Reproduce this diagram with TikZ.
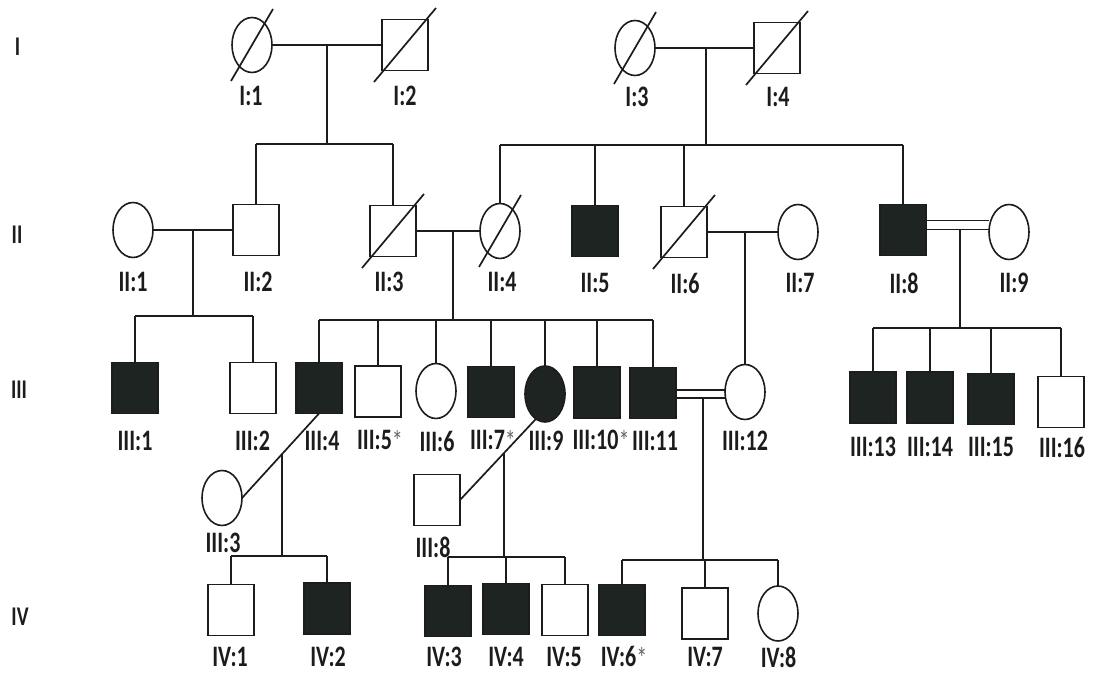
\documentclass[tikz,border=0pt]{standalone}
\usepackage{graphicx}
\usepackage{fontspec}
\setmainfont{Carlito}
\usetikzlibrary{shapes.geometric,calc}
\definecolor{affc}{RGB}{30,36,34}
\definecolor{linec}{RGB}{28,28,28}
\newcommand{\vs}[1]{\scalebox{1}[1.35]{#1}}
\newcommand{\astmark}{\textcolor{black!60}{\raisebox{-0.06em}{\mdseries *}}}
\begin{document}
\begin{tikzpicture}[x=1pt,y=-1pt,
  every node/.style={inner sep=0pt,outer sep=0pt},
  male/.style={draw=linec,line width=1.6pt,rectangle,minimum width=46pt,minimum height=51pt},
  female/.style={draw=linec,line width=1.6pt,ellipse,minimum width=40pt,minimum height=55pt},
  aff/.style={fill=affc},
  lab/.style={font=\fontsize{22}{24}\selectfont\bfseries,text=linec},
  gen/.style={font=\fontsize{20}{22}\selectfont\bfseries,text=linec},
  conn/.style={draw=linec,line width=1.7pt}]
\useasboundingbox (0,0) rectangle (1094,676);
\fill[white] (0,0) rectangle (1094,676);
% generation labels
\node[gen] (gI)   at (17.5,47) {\vs{I}};
\node[gen] (gII)  at (17,235)  {\vs{II}};
\node[gen] (gIII) at (19,390)  {\vs{III}};
\node[gen] (gIV)  at (20,617)  {\vs{IV}};
% generation I
\node[female] (I1) at (252,45) {};
\node[male]   (I2) at (405,45) {};
\node[female] (I3) at (635,48) {};
\node[male]   (I4) at (777,48) {};
% generation II
\node[female] (II1) at (133,230) {};
\node[male]   (II2) at (256,230) {};
\node[male]   (II3) at (393,231) {};
\node[female] (II4) at (500,231) {};
\node[male,aff] (II5) at (595,231) {};
\node[male]   (II6) at (684,232) {};
\node[female] (II7) at (798,232) {};
\node[male,aff] (II8) at (903,230) {};
\node[female] (II9) at (1009,232) {};
% generation III
\node[male,aff] (III1) at (135,388) {};
\node[male]     (III2) at (253,388) {};
\node[male,aff] (III4) at (319,388) {};
\node[male]     (III5) at (378,391.5) {};
\node[female]   (III6) at (436,391) {};
\node[male,aff] (III7) at (491,392) {};
\node[female,aff,minimum height=56pt] (III9) at (545,394) {};
\node[male,aff] (III10) at (597,392.5) {};
\node[male,aff] (III11) at (653,393) {};
\node[female]   (III12) at (745,392) {};
\node[male,aff] (III13) at (873,397.5) {};
\node[male,aff] (III14) at (930,397.5) {};
\node[male,aff] (III15) at (991,399) {};
\node[male]     (III16) at (1061,402) {};
\node[female]   (III3) at (222,498) {};
\node[male]     (III8) at (437,500) {};
% generation IV
\node[male]     (IV1) at (231,610) {};
\node[male,aff] (IV2) at (327,608.5) {};
\node[male,aff] (IV3) at (448,611) {};
\node[male,aff] (IV4) at (506,609) {};
\node[male]     (IV5) at (565,610) {};
\node[male,aff] (IV6) at (622,610) {};
\node[male]     (IV7) at (705,613.5) {};
\node[female]   (IV8) at (778,613.5) {};
% deceased marks
\foreach \n in {I1,I3,II4} \draw[conn] ($(\n.center)+(-21,36)$) -- ($(\n.center)+(21,-36)$);
\foreach \n in {I2,I4,II3,II6} \draw[conn] ($(\n.center)+(-31,37)$) -- ($(\n.center)+(31,-37)$);
% labels
\node[lab] (lI1) at (251,96) {\vs{I:1}};
\node[lab] (lI2) at (405,96) {\vs{I:2}};
\node[lab] (lI3) at (637,97) {\vs{I:3}};
\node[lab] (lI4) at (778,97) {\vs{I:4}};
\node[lab] (lII1) at (133,282) {\vs{II:1}};
\node[lab] (lII2) at (258,282) {\vs{II:2}};
\node[lab] (lII3) at (389,282) {\vs{II:3}};
\node[lab] (lII4) at (502,282) {\vs{II:4}};
\node[lab] (lII5) at (595,283) {\vs{II:5}};
\node[lab] (lII6) at (685,283) {\vs{II:6}};
\node[lab] (lII7) at (800,283) {\vs{II:7}};
\node[lab] (lII8) at (904,283) {\vs{II:8}};
\node[lab] (lII9) at (1014,283) {\vs{II:9}};
\node[lab] (lIII1) at (135,441) {\vs{III:1}};
\node[lab] (lIII2) at (252.5,441) {\vs{III:2}};
\node[lab] (lIII4) at (322,441) {\vs{III:4}};
\node[lab] (lIII5) at (380,441) {\vs{III:5\astmark}};
\node[lab] (lIII6) at (437,441) {\vs{III:6}};
\node[lab] (lIII7) at (493,441) {\vs{III:7\astmark}};
\node[lab] (lIII9) at (546,441) {\vs{III:9}};
\node[lab] (lIII10) at (601,441) {\vs{III:10\astmark}};
\node[lab] (lIII11) at (655,441) {\vs{III:11}};
\node[lab] (lIII12) at (745,441) {\vs{III:12}};
\node[lab] (lIII13) at (873,447) {\vs{III:13}};
\node[lab] (lIII14) at (930,447) {\vs{III:14}};
\node[lab] (lIII15) at (991,447) {\vs{III:15}};
\node[lab] (lIII16) at (1062,447) {\vs{III:16}};
\node[lab] (lIII3) at (223,543) {\vs{III:3}};
\node[lab] (lIII8) at (433,547) {\vs{III:8}};
\node[lab] (lIV1) at (230,657) {\vs{IV:1}};
\node[lab] (lIV2) at (328,657) {\vs{IV:2}};
\node[lab] (lIV3) at (444,657) {\vs{IV:3}};
\node[lab] (lIV4) at (506,657) {\vs{IV:4}};
\node[lab] (lIV5) at (564,657) {\vs{IV:5}};
\node[lab] (lIV6) at (624,657) {\vs{IV:6\astmark}};
\node[lab] (lIV7) at (705,657) {\vs{IV:7}};
\node[lab] (lIV8) at (778.5,657) {\vs{IV:8}};
% junction coordinates
\coordinate (m1) at ($(I1.east)!0.5!(I2.west)$);
\coordinate (s1) at (326,144);
\coordinate (m2) at (706,48);
\coordinate (s2) at (706,145);
\coordinate (m3) at ($(II1.east)!0.5!(II2.west)$);
\coordinate (s3) at (193,316);
\coordinate (m4) at (453,231);
\coordinate (s4) at (453,320);
\coordinate (m5) at (745,232);
\coordinate (m6) at (960,230);
\coordinate (s6) at (960,328);
\coordinate (m7) at (703,398);
\coordinate (s7) at (703,560);
\coordinate (m8) at ($(III4.south)!0.484!(III3.east)$);
\coordinate (s8) at (282,556);
\coordinate (m9) at ($(III9.250)!0.42!(III8.east)$);
\coordinate (s9) at (504,557);
% I:1 x I:2
\draw[conn] (I1.east) -- (I2.west);
\draw[conn] (m1) -- (m1 |- s1);
\draw[conn] (II2.north |- s1) -- (II3.north |- s1);
\foreach \c in {II2,II3} \draw[conn] (\c.north) -- (\c.north |- s1);
% I:3 x I:4
\draw[conn] (I3.east) -- (I4.west);
\draw[conn] (m2) -- (s2);
\draw[conn] (II4.north |- s2) -- (II8.north |- s2);
\foreach \c in {II4,II5,II6,II8} \draw[conn] (\c.north) -- (\c.north |- s2);
% II:1 x II:2
\draw[conn] (II1.east) -- (II2.west);
\draw[conn] (m3) -- (m3 |- s3);
\draw[conn] (III1.north |- s3) -- (III2.north |- s3);
\foreach \c in {III1,III2} \draw[conn] (\c.north) -- (\c.north |- s3);
% II:3 x II:4
\draw[conn] (II3.east) -- (II4.west);
\draw[conn] (m4) -- (s4);
\draw[conn] (III4.north |- s4) -- (III11.north |- s4);
\foreach \c in {III4,III5,III6,III7,III9,III10,III11} \draw[conn] (\c.north) -- (\c.north |- s4);
% II:6 x II:7
\draw[conn] (II6.east) -- (II7.west);
\draw[conn] (m5) -- (III12.north);
% II:8 = II:9
\draw[conn] ([yshift=9.5pt]II8.east) -- ([yshift=9.5pt]II8.east -| II9.west);
\draw[conn] ([yshift=0.5pt]II8.east) -- ([yshift=0.5pt]II8.east -| II9.west);
\draw[conn] (m6) -- (s6);
\draw[conn] (III13.north |- s6) -- (III16.north |- s6);
\foreach \c in {III13,III14,III15,III16} \draw[conn] (\c.north) -- (\c.north |- s6);
% III:11 = III:12
\draw[conn] ([yshift=3pt]III11.east) -- ([yshift=3pt]III11.east -| III12.west);
\draw[conn] ([yshift=-5pt]III11.east) -- ([yshift=-5pt]III11.east -| III12.west);
\draw[conn] (m7) -- (s7);
\draw[conn] (IV6.north |- s7) -- (IV8.north |- s7);
\foreach \c in {IV6,IV7,IV8} \draw[conn] (\c.north) -- (\c.north |- s7);
% III:4 x III:3
\draw[conn] (III4.south) -- (III3.east);
\draw[conn] (m8) -- (m8 |- s8);
\draw[conn] (IV1.north |- s8) -- (IV2.north |- s8);
\foreach \c in {IV1,IV2} \draw[conn] (\c.north) -- (\c.north |- s8);
% III:9 x III:8
\draw[conn] (III9.250) -- (III8.east);
\draw[conn] (m9) -- (m9 |- s9);
\draw[conn] (IV3.north |- s9) -- (IV5.north |- s9);
\foreach \c in {IV3,IV4,IV5} \draw[conn] (\c.north) -- (\c.north |- s9);
\end{tikzpicture}
\end{document}
